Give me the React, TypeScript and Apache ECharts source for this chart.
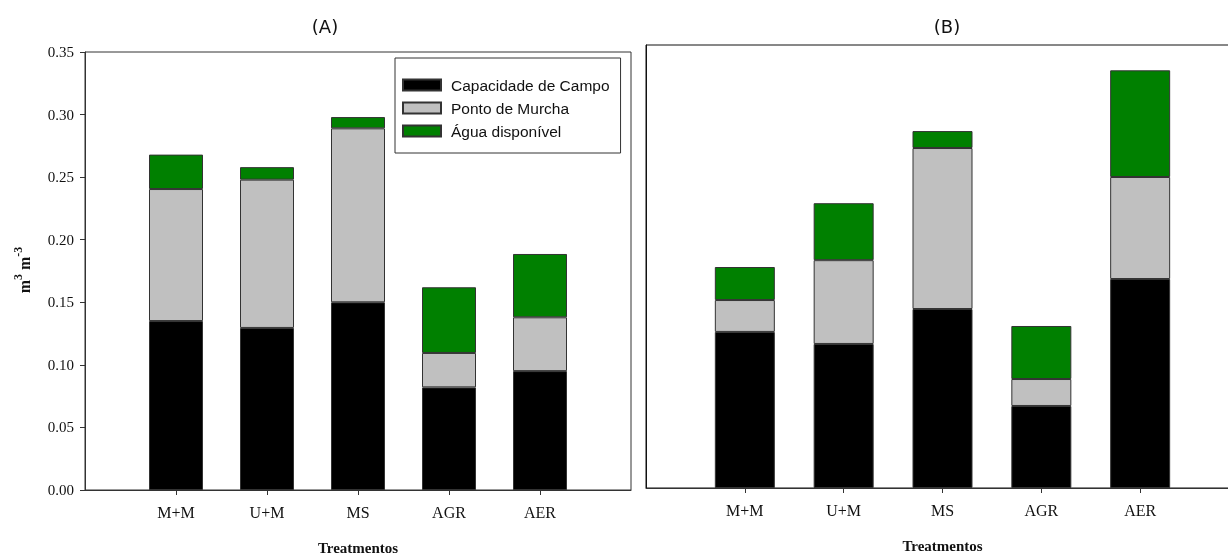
import React, { useEffect, useRef } from "react";
import * as echarts from "echarts";

const categories = ["M+M", "U+M", "MS", "AGR", "AER"];
const seriesNames = ["Capacidade de Campo", "Ponto de Murcha", "Água disponível"];
const colors = ["#000000", "#c0c0c0", "#008000"];

// Panel (A): stacked segment heights
const aCapacidade = [0.135, 0.1295, 0.15, 0.082, 0.095];
const aPonto = [0.1055, 0.1185, 0.139, 0.0275, 0.043];
const aAgua = [0.0275, 0.01, 0.009, 0.0525, 0.0506];

// Panel (B): stacked segment heights
const bCapacidade = [0.1233, 0.1138, 0.1414, 0.0648, 0.1651];
const bPonto = [0.0252, 0.0662, 0.1272, 0.0213, 0.0806];
const bAgua = [0.0261, 0.045, 0.0134, 0.0419, 0.0843];

const yTicks = { min: 0, max: 0.35, interval: 0.05 };

const pad = (arr: any[], fill: any) => [fill, ...arr, fill];

export default function App() {
  const ref = useRef<HTMLDivElement>(null);
  useEffect(() => {
    if (!ref.current) return;
    const chart = echarts.init(ref.current, null, { renderer: "svg" });
    const cats = pad(categories, "");
    const xAxisBase = (gridIndex: number) => ({
      type: "category",
      gridIndex,
      data: cats,
      boundaryGap: false,
      axisLine: { lineStyle: { color: "#333", width: 1 } },
      axisTick: {
        show: true,
        length: 5,
        interval: (_i: number, v: string) => v !== "",
        lineStyle: { color: "#333" },
      },
      axisLabel: {
        interval: 0,
        margin: 14,
        fontFamily: "Liberation Serif",
        fontSize: 16,
        color: "#111",
      },
      name: "Treatmentos",
      nameLocation: "middle",
      nameGap: 50,
      nameTextStyle: {
        fontFamily: "Liberation Serif",
        fontWeight: "bold",
        fontSize: 15,
        color: "#111",
      },
    });
    const groups = [
      { grid: 0, stack: "A", data: [aCapacidade, aPonto, aAgua], width: 54 },
      { grid: 1, stack: "B", data: [bCapacidade, bPonto, bAgua], width: 60 },
    ];
    const series: any[] = [];
    groups.forEach((g) => {
      g.data.forEach((d, i) => {
        series.push({
          type: "bar",
          name: seriesNames[i],
          xAxisIndex: g.grid,
          yAxisIndex: g.grid,
          stack: g.stack,
          barWidth: g.width,
          data: pad(d, "-"),
          itemStyle: { color: colors[i], borderColor: "#333", borderWidth: 1 },
        });
      });
    });
    chart.setOption({
      animation: false,
      title: [
        {
          text: "(A)",
          left: 320,
          top: 12,
          textAlign: "center",
          textStyle: { fontFamily: "DejaVu Sans", fontWeight: "normal", fontSize: 18, color: "#111" },
        },
        {
          text: "(B)",
          left: 942,
          top: 12,
          textAlign: "center",
          textStyle: { fontFamily: "DejaVu Sans", fontWeight: "normal", fontSize: 18, color: "#111" },
        },
      ],
      legend: {
        data: seriesNames,
        orient: "vertical",
        left: 395,
        top: 58,
        padding: [19, 11, 14, 7],
        borderColor: "#333",
        borderWidth: 1,
        icon: "rect",
        itemWidth: 38,
        itemHeight: 11,
        itemGap: 7,
        textStyle: {
          fontFamily: "Liberation Sans",
          fontSize: 15.5,
          color: "#111",
          padding: [0, 0, 0, 5],
        },
      },
      grid: [
        { left: 85, top: 52, width: 546, bottom: 64, show: true, borderColor: "#333", borderWidth: 1, outerBoundsMode: "none", containLabel: false },
        { left: 646, top: 45, width: 593, bottom: 66, show: true, borderColor: "#111", borderWidth: 1, outerBoundsMode: "none", containLabel: false },
      ],
      xAxis: [xAxisBase(0), xAxisBase(1)],
      yAxis: [
        {
          type: "value",
          gridIndex: 0,
          ...yTicks,
          splitLine: { show: false },
          axisLine: { show: true, lineStyle: { color: "#333" } },
          axisTick: { show: true, length: 5, lineStyle: { color: "#333" } },
          axisLabel: {
            formatter: (v: number) => v.toFixed(2),
            fontFamily: "Liberation Serif",
            fontSize: 15,
            color: "#111",
            margin: 11,
          },
        },
        {
          type: "value",
          gridIndex: 1,
          ...yTicks,
          splitLine: { show: false },
          axisLine: { show: true, lineStyle: { color: "#111" } },
          axisTick: { show: false },
          axisLabel: { show: false },
        },
      ],
      graphic: [
        {
          type: "text",
          x: 22,
          y: 270,
          rotation: Math.PI / 2,
          style: {
            text: "{b|m}{s|3}{b| m}{s|-3}",
            align: "center",
            verticalAlign: "middle",
            rich: {
              b: { fontFamily: "Liberation Serif", fontWeight: "bold", fontSize: 16, fill: "#111", verticalAlign: "bottom", lineHeight: 20 },
              s: { fontFamily: "Liberation Serif", fontWeight: "bold", fontSize: 12, fill: "#111", verticalAlign: "top", lineHeight: 20 },
            },
          },
        },
      ],
      series,
    });
    return () => chart.dispose();
  }, []);
  return <div ref={ref} style={{ position: "fixed", left: 0, top: 0, width: 1228, height: 554 }} />;
}
